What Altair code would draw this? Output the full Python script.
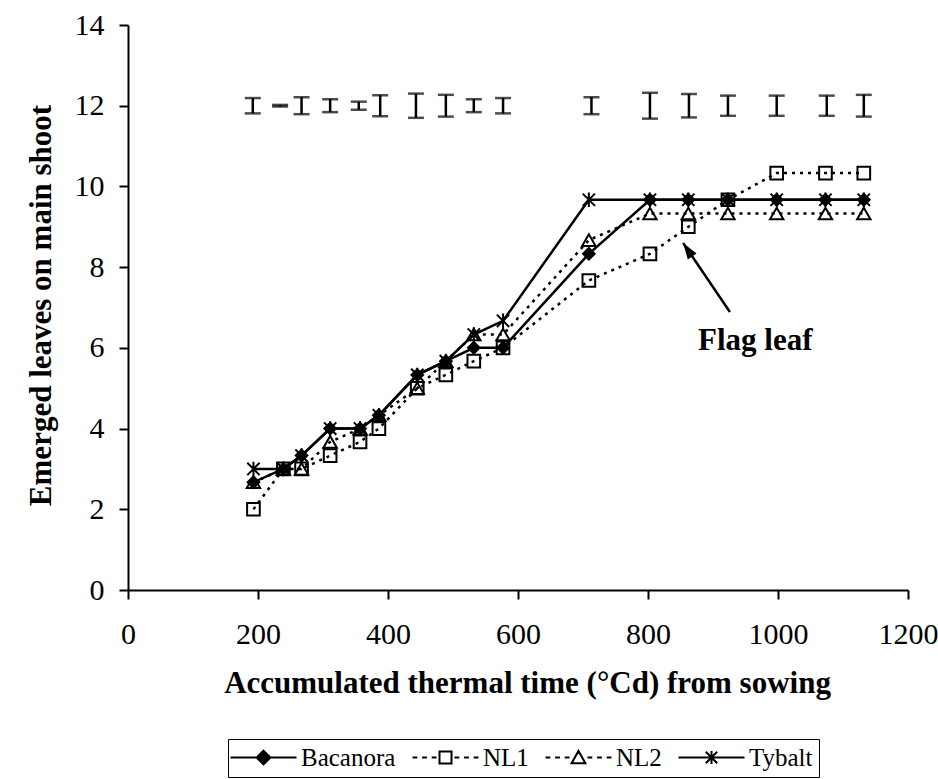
import altair as alt
import pandas as pd

# ---------------- data ----------------
thermal_time = [193, 239, 267, 311, 357, 386, 445, 489, 532, 577, 709, 803, 862, 923, 998, 1073, 1132]
bacanora = [2.67, 3.0, 3.33, 4.0, 4.0, 4.33, 5.33, 5.67, 6.0, 6.0, 8.33, 9.67, 9.67, 9.67, 9.67, 9.67, 9.67]
nl1 = [2.0, 3.0, 3.0, 3.33, 3.67, 4.0, 5.0, 5.33, 5.67, 6.0, 7.67, 8.33, 9.0, 9.67, 10.33, 10.33, 10.33]
nl2 = [2.67, 3.0, 3.0, 3.67, 4.0, 4.33, 5.0, 5.67, 6.33, 6.33, 8.67, 9.33, 9.33, 9.33, 9.33, 9.33, 9.33]
tybalt = [3.0, 3.0, 3.33, 4.0, 4.0, 4.33, 5.33, 5.67, 6.33, 6.67, 9.67, 9.67, 9.67, 9.67, 9.67, 9.67, 9.67]
series_names = ["Bacanora", "NL1", "NL2", "Tybalt"]

# error bars (drawn at 12 leaves)
errbar_x = [192, 234, 267, 311, 355, 388, 443, 489, 532, 577, 713, 803, 863, 923, 998, 1075, 1132]
errbar_center = 12
errbar_half = [0.19, 0.02, 0.21, 0.16, 0.10, 0.26, 0.30, 0.27, 0.16, 0.19, 0.21, 0.32, 0.29, 0.25, 0.25, 0.25, 0.27]

# annotation
annot_text = ["Flag leaf"]
annot_text_x = [965]
annot_text_y = [5.95]
arrow_tail = [926, 6.89]
arrow_tip = [854, 8.6]

x_ticks = [0, 200, 400, 600, 800, 1000, 1200]
y_ticks = [0, 2, 4, 6, 8, 10, 12, 14]

# ---------------- tables ----------------
values = {"Bacanora": bacanora, "NL1": nl1, "NL2": nl2, "Tybalt": tybalt}
rows = []
for s in series_names:
    for xv, yv in zip(thermal_time, values[s]):
        rows.append({"x": xv, "y": yv, "series": s})
df = pd.DataFrame(rows)

err_df = pd.DataFrame({
    "x": errbar_x,
    "lo": [errbar_center - h for h in errbar_half],
    "hi": [errbar_center + h for h in errbar_half],
})
text_df = pd.DataFrame({"x": annot_text_x, "y": annot_text_y, "t": annot_text})
arrow_df = pd.DataFrame({"x": [arrow_tail[0]], "y": [arrow_tail[1]],
                         "x2": [arrow_tip[0]], "y2": [arrow_tip[1]]})

FONT = "Liberation Serif"

common_axis = dict(grid=False, labelFont=FONT, labelFontSize=30, labelColor="black",
                   titleFont=FONT, titleFontSize=31, titleFontWeight="bold", titleColor="black",
                   domainColor="black", domainWidth=2, tickColor="black", tickWidth=2,
                   tickSize=9, labelBound=False, labelOverlap=False)

xscale = alt.Scale(domain=[0, 1200], nice=False, zero=False)
yscale = alt.Scale(domain=[0, 14], nice=False)
xaxis = alt.Axis(values=x_ticks, format="d", title="Accumulated thermal time (°Cd) from sowing",
                 titleX=399, titleY=102, titleBaseline="alphabetic", labelFlush=False,
                 labelPadding=20, **common_axis)
yaxis = alt.Axis(values=y_ticks, format="d", title="Emerged leaves on main shoot",
                 titleX=-78, titleY=280, titleBaseline="alphabetic", titleAngle=270,
                 labelPadding=15, **common_axis)

def X(field="x"):
    return alt.X(f"{field}:Q", scale=xscale, axis=xaxis)

def Y(field="y"):
    return alt.Y(f"{field}:Q", scale=yscale, axis=yaxis)

line_style = {
    "Bacanora": dict(strokeWidth=2.5),
    "NL1": dict(strokeWidth=2.5, strokeDash=[3, 5]),
    "NL2": dict(strokeWidth=2.5, strokeDash=[3, 5]),
    "Tybalt": dict(strokeWidth=2.5),
}
asterisk = "M0,-1L0,1M-0.85,-0.85L0.85,0.85M-0.85,0.85L0.85,-0.85"
point_style = {
    "Bacanora": dict(shape="diamond", filled=True, size=210),
    "NL1": dict(shape="square", filled=False, size=160, strokeWidth=2),
    "NL2": dict(shape="triangle-up", filled=False, size=180, strokeWidth=2),
    "Tybalt": dict(shape=asterisk, filled=False, size=210, strokeWidth=2),
}
draw_order = ["NL1", "NL2", "Bacanora", "Tybalt"]

layers = []
for s in draw_order:
    layers.append(
        alt.Chart(df).transform_filter(alt.datum.series == s)
        .mark_line(color="black", **line_style[s])
        .encode(x=X(), y=Y(), order="x:Q")
    )
for s in draw_order:
    layers.append(
        alt.Chart(df).transform_filter(alt.datum.series == s)
        .mark_point(color="black", opacity=1, **point_style[s])
        .encode(x=X(), y=Y())
    )

# error bars
layers.append(alt.Chart(err_df).mark_rule(color="black", strokeWidth=2.5)
              .encode(x=X(), y=Y("lo"), y2="hi:Q"))
layers.append(alt.Chart(err_df).mark_tick(color="black", orient="horizontal", size=16, thickness=2.5)
              .encode(x=X(), y=Y("lo")))
layers.append(alt.Chart(err_df).mark_tick(color="black", orient="horizontal", size=16, thickness=2.5)
              .encode(x=X(), y=Y("hi")))

# annotation
layers.append(alt.Chart(text_df).mark_text(font=FONT, fontSize=31, fontWeight="bold", color="black",
                                           align="center", baseline="alphabetic")
              .encode(x=X(), y=Y(), text="t:N"))
layers.append(alt.Chart(arrow_df).mark_rule(color="black", strokeWidth=2.5)
              .encode(x=X(), y=Y(), x2="x2:Q", y2="y2:Q"))
arrow_head = "M0,0L0.75,2.3L-0.75,2.3Z"
layers.append(alt.Chart(arrow_df).mark_point(shape=arrow_head, filled=True, color="black",
                                             size=200, angle=326, opacity=1)
              .encode(x=X("x2"), y=Y("y2")))

# legend (symbols only, no marks drawn)
dash_l = "M-5.5,0L-4.7,0M-3.9,0L-3.1,0M-2.3,0L-1.5,0"
dash_r = "M1.5,0L2.3,0M3.1,0L3.9,0M4.7,0L5.5,0"
legend_paths = [
    "M-5.5,0L5.5,0M0,-1.15L1.15,0L0,1.15L-1.15,0Z",
    dash_l + dash_r + "M-1,-1L1,-1L1,1L-1,1Z",
    dash_l + dash_r + "M0,-1.1L1.15,0.95L-1.15,0.95Z",
    "M-5.5,0L5.5,0" + "M0,-1.1L0,1.1M-0.95,-0.95L0.95,0.95M-0.95,0.95L0.95,-0.95",
]
legend_fill = ["black", "white", "white", "white"]
legend_stroke = ["black", "black", "black", "black"]
leg = alt.Legend(title=None, orient="none", legendX=100, legendY=714, direction="horizontal",
                 columns=4, gridAlign="none", labelFont=FONT, labelFontSize=25, labelColor="black",
                 symbolSize=144, symbolStrokeWidth=2, symbolStrokeColor="black",
                 symbolOffset=17, labelOffset=25, columnPadding=12, padding=6,
                 strokeColor="black", symbolOpacity=1)
layers.append(
    alt.Chart(df).transform_filter("false")
    .mark_point(filled=False, strokeWidth=2, size=144)
    .encode(x=X(), y=Y(),
            shape=alt.Shape("series:N", scale=alt.Scale(domain=series_names, range=legend_paths), legend=leg),
            fill=alt.Fill("series:N", scale=alt.Scale(domain=series_names, range=legend_fill), legend=leg),
            stroke=alt.Stroke("series:N", scale=alt.Scale(domain=series_names, range=legend_stroke), legend=leg))
)

chart = (
    alt.layer(*layers)
    .properties(width=780, height=565,
                padding={"left": 128, "top": 25, "right": 30, "bottom": 189},
                autosize=alt.AutoSizeParams(type="none"),
                background="white")
    .configure_view(strokeWidth=0)
)

chart.save("out.html", embed_options={"renderer": "svg", "actions": False})
